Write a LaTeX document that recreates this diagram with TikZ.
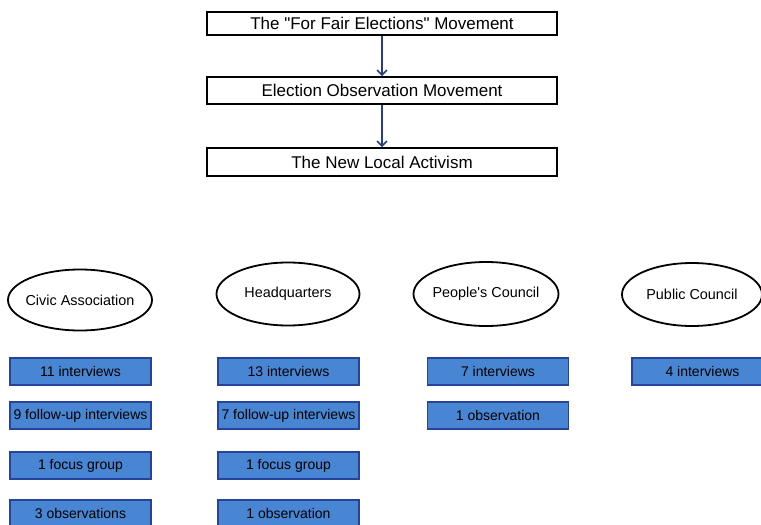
\documentclass[tikz,border=0pt]{standalone}
\usepackage{fontspec}
\setmainfont{Liberation Sans}
\usetikzlibrary{arrows.meta,shapes.geometric}
\definecolor{boxblue}{RGB}{72,133,210}
\definecolor{boxedge}{RGB}{38,68,158}
\definecolor{arrowblue}{RGB}{40,60,140}
\begin{document}
\begin{tikzpicture}[x=1pt,y=-1pt,
  topbox/.style={draw=black,line width=1.8pt,fill=white,minimum width=350pt,inner sep=0pt,font=\fontsize{17}{19}\selectfont},
  place/.style={draw=black,line width=1.8pt,ellipse,fill=white,inner sep=0pt},
  placetext/.style={inner sep=0pt,font=\fontsize{14.4}{16}\selectfont},
  datum/.style={draw=boxedge,line width=1.6pt,fill=boxblue,minimum width=141pt,minimum height=27pt,inner sep=0pt,font=\fontsize{14}{16}\selectfont},
  flow/.style={draw=arrowblue,line width=1.5pt,-{Straight Barb[length=5pt,width=10pt]}}]
\useasboundingbox (0,0) rectangle (761,525);
\clip (0,0) rectangle (761,525);
% top chain
\node[topbox,minimum height=23pt] (m1) at (382,23.5) {The \textquotedbl For Fair Elections\textquotedbl\ Movement};
\node[topbox,minimum height=27pt] (m2) at (382,90.5) {Election Observation Movement};
\node[topbox,minimum height=28pt] (m3) at (382,162) {The New Local Activism};
\draw[flow] (m1) -- (m2);
\draw[flow] (m2) -- (m3);
% ellipses
\node[place,minimum width=144pt,minimum height=61pt] (civ) at (80,300) {};
\node[placetext] (civt) at (civ.center) {Civic Association};
\node[place,minimum width=143pt,minimum height=63pt] (hq) at (288,294) {};
\node[placetext] (hqt) at (hq.center) {Headquarters};
\node[place,minimum width=145pt,minimum height=64pt] (pc) at (486,294) {};
\node[placetext] (pct) at (pc.center) {People\textquotesingle s Council};
\node[place,minimum width=140pt,minimum height=63pt] (pub) at (692,294.5) {};
\node[placetext] (pubt) at (pub.center) {Public Council};
% civic column
\node[datum] (c1) at (80.5,371.5) {11 interviews};
\node[datum] (c2) at (80.5,415.5) {9 follow-up interviews};
\node[datum] (c3) at (80.5,465.5) {1 focus group};
\node[datum] (c4) at (80.5,513.5) {3 observations};
% headquarters column
\node[datum] (h1) at (288.5,371.5) {13 interviews};
\node[datum] (h2) at (288.5,415.5) {7 follow-up interviews};
\node[datum] (h3) at (288.5,465.5) {1 focus group};
\node[datum] (h4) at (288.5,513.5) {1 observation};
% people's council column
\node[datum] (p1) at (498,371.5) {7 interviews};
\node[datum] (p2) at (498,415.5) {1 observation};
% public council column
\node[datum] (u1) at (702.5,371.5) {4 interviews};
\end{tikzpicture}
\end{document}
